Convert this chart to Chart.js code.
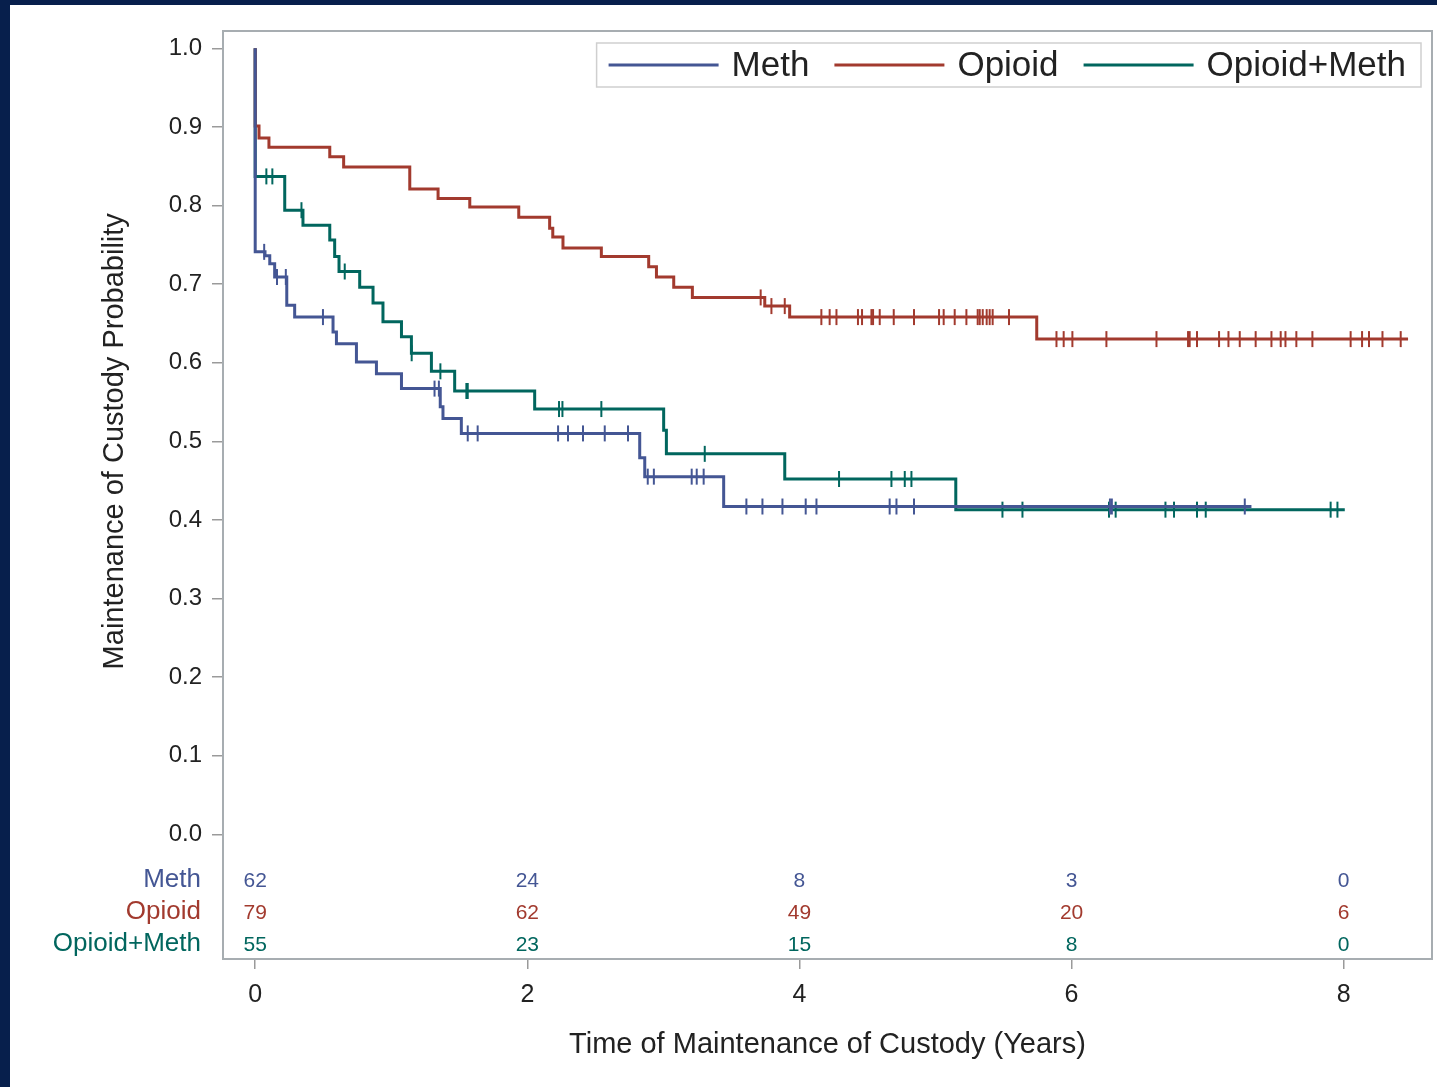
<!DOCTYPE html>
<html>
<head>
<meta charset="utf-8">
<title>Maintenance of Custody</title>
<script src="https://cdn.jsdelivr.net/npm/chart.js@4.4.1/dist/chart.umd.min.js"></script>
<style>
  body { margin: 0; background: #fff; }
  #wrap { width: 1437px; height: 1087px; }
</style>
</head>
<body>
<div id="wrap"><canvas id="km" width="1437" height="1087"></canvas></div>
<script>
// axis ticks
const timeTicks = [0, 2, 4, 6, 8];
const probTicks = [0, 0.1, 0.2, 0.3, 0.4, 0.5, 0.6, 0.7, 0.8, 0.9, 1.0];

const groups = ['Meth', 'Opioid', 'Opioid+Meth'];
const groupColors = ['#445694', '#A23A2E', '#01665E'];

// Kaplan-Meier steps: time (years) and survival level after the drop
const methTimes = [0, 0, 0.072, 0.107, 0.143, 0.232, 0.290, 0.572, 0.597, 0.744, 0.891, 1.075, 1.360, 1.380, 1.515, 2.826, 2.863, 3.443, 7.322];
const methSurv  = [1.0, 0.741, 0.736, 0.726, 0.709, 0.673, 0.658, 0.639, 0.624, 0.601, 0.586, 0.567, 0.544, 0.529, 0.510, 0.479, 0.455, 0.417, 0.417];
const methCensor = [0.066, 0.160, 0.225, 0.498, 1.318, 1.350, 1.562, 1.635, 2.226, 2.299, 2.409, 2.569, 2.740,
  2.885, 2.930, 3.208, 3.245, 3.296, 3.610, 3.728, 3.875, 4.046, 4.125, 4.663, 4.713, 4.842, 6.282, 6.296, 7.273];

const opioidTimes = [0, 0, 0.028, 0.101, 0.548, 0.650, 1.136, 1.344, 1.577, 1.937, 2.164, 2.187, 2.262, 2.544, 2.892, 2.949, 3.076, 3.213, 3.745, 3.928, 5.744, 8.473];
const opioidSurv  = [1.0, 0.901, 0.886, 0.874, 0.862, 0.849, 0.821, 0.809, 0.798, 0.785, 0.771, 0.760, 0.746, 0.735, 0.722, 0.709, 0.696, 0.683, 0.672, 0.658, 0.630, 0.630];
const opioidCensor = [3.715, 3.794, 3.892, 4.161, 4.222, 4.272, 4.430, 4.460, 4.529, 4.541, 4.590, 4.693, 4.842,
  5.026, 5.060, 5.141, 5.227, 5.310, 5.325, 5.347, 5.376, 5.398, 5.420, 5.540,
  5.889, 5.942, 6.006, 6.256, 6.624, 6.856, 6.868, 6.922, 7.084, 7.153, 7.236, 7.353, 7.469, 7.537, 7.572,
  7.652, 7.770, 8.051, 8.135, 8.186, 8.285, 8.419];

const comboTimes = [0, 0, 0.217, 0.351, 0.548, 0.584, 0.616, 0.768, 0.866, 0.939, 1.075, 1.148, 1.295, 1.466, 2.054, 3.002, 3.022, 3.892, 5.149, 8.008];
const comboSurv  = [1.0, 0.837, 0.794, 0.775, 0.756, 0.735, 0.716, 0.696, 0.676, 0.652, 0.633, 0.612, 0.589, 0.564, 0.541, 0.514, 0.484, 0.452, 0.413, 0.413];
const comboCensor = [0.082, 0.126, 0.340, 0.658, 1.150, 1.361, 1.552, 1.562, 2.233, 2.258, 2.544, 3.304,
  4.291, 4.676, 4.774, 4.823, 5.492, 5.639, 6.275, 6.324, 6.690, 6.753, 6.922, 6.986, 7.904, 7.954];

// number at risk at each time tick
const atRiskMeth   = [62, 24, 8, 3, 0];
const atRiskOpioid = [79, 62, 49, 20, 6];
const atRiskCombo  = [55, 23, 15, 8, 0];

const FONT = '"Liberation Sans", Arial, sans-serif';

function stepPoints(times, surv) {
  return times.map((t, i) => ({ x: t, y: surv[i] }));
}

// censor marks sit on the curve level at that time
function censorPoints(times, surv, cens) {
  return cens.map(c => {
    let v = surv[0];
    for (let i = 0; i < times.length; i++) {
      if (times[i] <= c) v = surv[i];
    }
    return { x: c, y: v };
  });
}

const curveSets = [
  [methTimes, methSurv, methCensor],
  [opioidTimes, opioidSurv, opioidCensor],
  [comboTimes, comboSurv, comboCensor]
];
const atRisk = [atRiskMeth, atRiskOpioid, atRiskCombo];

const datasets = [];
curveSets.forEach(([t, s, c], i) => {
  datasets.push({
    type: 'line',
    label: groups[i],
    data: stepPoints(t, s),
    stepped: true,
    borderColor: groupColors[i],
    borderWidth: 3,
    pointRadius: 0,
    fill: false
  });
  datasets.push({
    type: 'scatter',
    label: groups[i] + ' censored',
    data: censorPoints(t, s, c),
    pointStyle: 'line',
    rotation: 90,
    pointRadius: 8,
    borderColor: groupColors[i],
    borderWidth: 2
  });
});

const framePlugin = {
  id: 'frame',
  beforeDraw(chart) {
    const ctx = chart.ctx;
    ctx.save();
    ctx.fillStyle = '#071f4c';
    ctx.fillRect(0, 0, chart.width, chart.height);
    ctx.fillStyle = '#ffffff';
    ctx.fillRect(10, 5, chart.width - 10, chart.height - 5);
    ctx.restore();
  },
  afterDraw(chart) {
    const ctx = chart.ctx;
    const a = chart.chartArea;
    const xs = chart.scales.x;
    const ys = chart.scales.y;
    ctx.save();
    // plot frame
    ctx.strokeStyle = '#a7adb1';
    ctx.lineWidth = 2;
    ctx.strokeRect(a.left, a.top, a.right - a.left, a.bottom - a.top);

    // y title, centred on the 0..1 range
    const yMid = (ys.getPixelForValue(0) + ys.getPixelForValue(1)) / 2;
    ctx.translate(115, yMid);
    ctx.rotate(-Math.PI / 2);
    ctx.fillStyle = '#222';
    ctx.font = '29px ' + FONT;
    ctx.textAlign = 'center';
    ctx.textBaseline = 'middle';
    ctx.fillText('Maintenance of Custody Probability', 0, 0);
    ctx.setTransform(1, 0, 0, 1, 0, 0);

    // at-risk table
    const rowY = [881, 913, 945];
    groups.forEach((g, i) => {
      ctx.fillStyle = groupColors[i];
      ctx.font = '26px ' + FONT;
      ctx.textAlign = 'right';
      ctx.textBaseline = 'middle';
      ctx.fillText(g, 201, rowY[i] - 1);
      ctx.font = '21px ' + FONT;
      ctx.textAlign = 'center';
      atRisk[i].forEach((n, j) => {
        ctx.fillText(String(n), xs.getPixelForValue(timeTicks[j]), rowY[i]);
      });
    });

    // legend
    ctx.font = '35px ' + FONT;
    ctx.textBaseline = 'middle';
    ctx.textAlign = 'left';
    const boxTop = 43, boxH = 44, lineLen = 110;
    let widths = groups.map(g => ctx.measureText(g).width);
    let total = 12;
    widths.forEach((w, i) => { total += lineLen + 13 + w + (i < groups.length - 1 ? 25 : 15); });
    const boxLeft = a.right - 11 - total;
    ctx.strokeStyle = '#cfcfcf';
    ctx.lineWidth = 1.5;
    ctx.strokeRect(boxLeft, boxTop, total, boxH);
    let x = boxLeft + 12;
    const cy = boxTop + boxH / 2;
    groups.forEach((g, i) => {
      ctx.strokeStyle = groupColors[i];
      ctx.lineWidth = 3;
      ctx.beginPath();
      ctx.moveTo(x, cy);
      ctx.lineTo(x + lineLen, cy);
      ctx.stroke();
      x += lineLen + 13;
      ctx.fillStyle = '#222';
      ctx.fillText(g, x, cy + 1);
      x += widths[i] + 25;
    });
    ctx.restore();
  }
};

new Chart(document.getElementById('km'), {
  data: { datasets: datasets },
  options: {
    responsive: false,
    animation: false,
    layout: { autoPadding: false, padding: { top: 31, right: 5, left: 0, bottom: 0 } },
    plugins: {
      legend: { display: false },
      tooltip: { enabled: false }
    },
    scales: {
      x: {
        type: 'linear',
        min: -0.2367,
        max: 8.649,
        afterBuildTicks: s => { s.ticks = timeTicks.map(v => ({ value: v })); },
        afterFit: s => { s.height = 128; },
        grid: { drawOnChartArea: false, tickLength: 10, color: '#9a9a9a', lineWidth: 1.5 },
        border: { display: false },
        ticks: {
          padding: 11,
          color: '#222',
          font: { family: FONT, size: 25 },
          callback: v => String(v)
        },
        title: {
          display: true,
          text: 'Time of Maintenance of Custody (Years)',
          color: '#222',
          font: { family: FONT, size: 29 },
          padding: { top: 0, bottom: 25 }
        }
      },
      y: {
        type: 'linear',
        min: -0.1587,
        max: 1.022,
        afterBuildTicks: s => { s.ticks = probTicks.map(v => ({ value: v })); },
        afterFit: s => { s.width = 223; },
        grid: { drawOnChartArea: false, tickLength: 11, color: '#9a9a9a', lineWidth: 1.5 },
        border: { display: false },
        ticks: {
          padding: 10,
          color: '#222',
          font: { family: FONT, size: 24 },
          callback: v => v.toFixed(1)
        }
      }
    }
  },
  plugins: [framePlugin]
});
</script>
</body>
</html>
